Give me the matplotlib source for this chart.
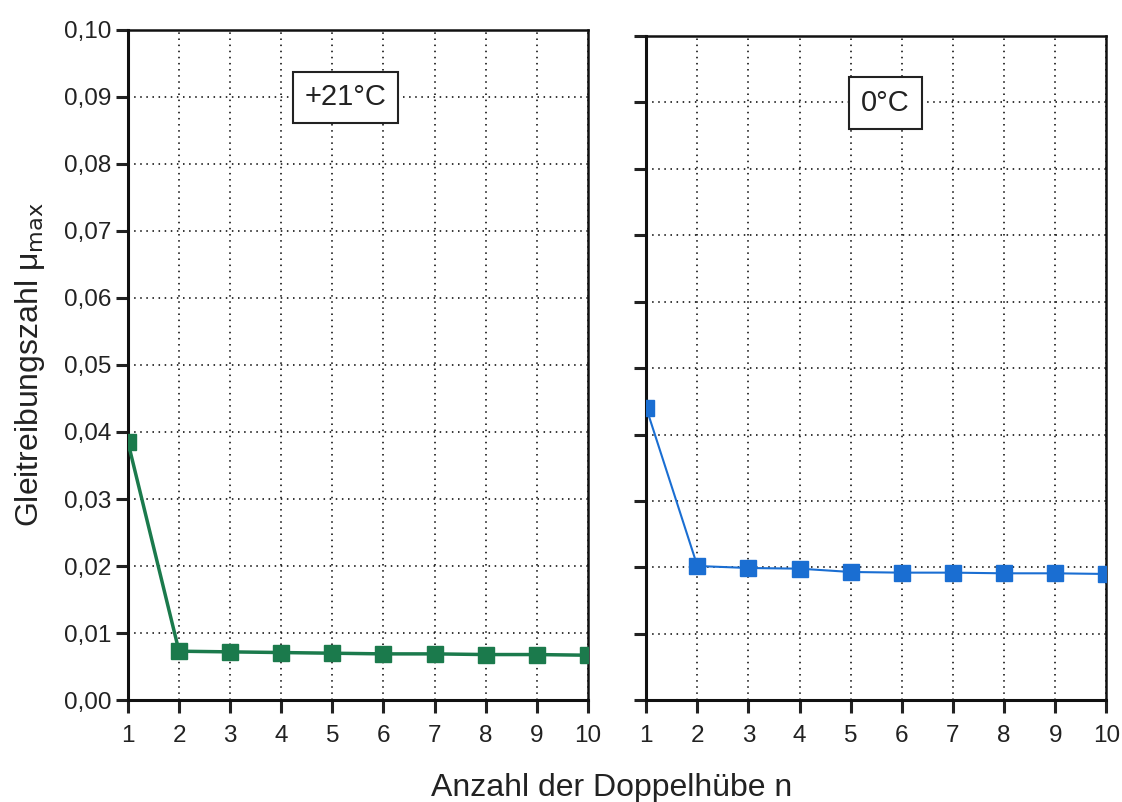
import matplotlib
matplotlib.use("Agg")
import matplotlib.pyplot as plt
from matplotlib.ticker import FuncFormatter

plt.rcParams['font.family'] = ['Liberation Sans', 'DejaVu Sans']

n = [1, 2, 3, 4, 5, 6, 7, 8, 9, 10]
mu_21 = [0.0385, 0.0073, 0.0072, 0.0071, 0.0070, 0.0069, 0.0069, 0.0068, 0.0068, 0.0067]
mu_0 = [0.0440, 0.0202, 0.0199, 0.0198, 0.0193, 0.0192, 0.0192, 0.0191, 0.0191, 0.0190]
yticks = [0.00, 0.01, 0.02, 0.03, 0.04, 0.05, 0.06, 0.07, 0.08, 0.09, 0.10]
labels = ["+21°C", "0°C"]

fig = plt.figure(figsize=(11.22, 8.02), dpi=100)
ax1 = fig.add_axes([0.114, 0.127, 0.410, 0.836])
ax2 = fig.add_axes([0.576, 0.127, 0.410, 0.828])

fmt = FuncFormatter(lambda v, p: f"{v:.2f}".replace('.', ','))

for ax, data, col, lw, lab, lx in [(ax1, mu_21, '#1b7a4c', 2.5, labels[0], 5.25),
                                   (ax2, mu_0, '#1a6ed2', 1.5, labels[1], 5.68)]:
    ax.plot(n, data, color=col, lw=lw, marker='s', markersize=11, clip_on=True, zorder=3)
    ax.set_xlim(1, 10)
    ax.set_ylim(0, 0.10)
    ax.set_xticks(n)
    ax.set_yticks(yticks)
    ax.grid(True, color='black', linestyle=(0, (1, 3)), linewidth=1.1)
    ax.tick_params(direction='out', length=9, width=2.2, labelsize=17.5, top=False, right=False,
                   colors='#222222')
    ax.tick_params(axis='y', pad=3)
    ax.tick_params(axis='x', pad=9)
    for s in ax.spines.values():
        s.set_linewidth(1.8)
        s.set_color('#111111')
    ax.spines['left'].set_linewidth(2.2)
    ax.spines['bottom'].set_linewidth(2.2)
    ax.text(lx, 0.0899, lab, fontsize=21, ha='center', va='center', color='#222222',
            bbox=dict(boxstyle='square,pad=0.4', fc='white', ec='#222222', lw=1.5), zorder=4)

ax1.yaxis.set_major_formatter(fmt)
ax2.tick_params(labelleft=False)

ax1.set_ylabel(r"Gleitreibungszahl μ$_{\mathrm{max}}$", fontsize=23, labelpad=12, color='#222222')
fig.text(0.545, 0.018, "Anzahl der Doppelhübe n", fontsize=23, ha='center', va='center',
         color='#222222')

fig.savefig("out.png", dpi=100)
